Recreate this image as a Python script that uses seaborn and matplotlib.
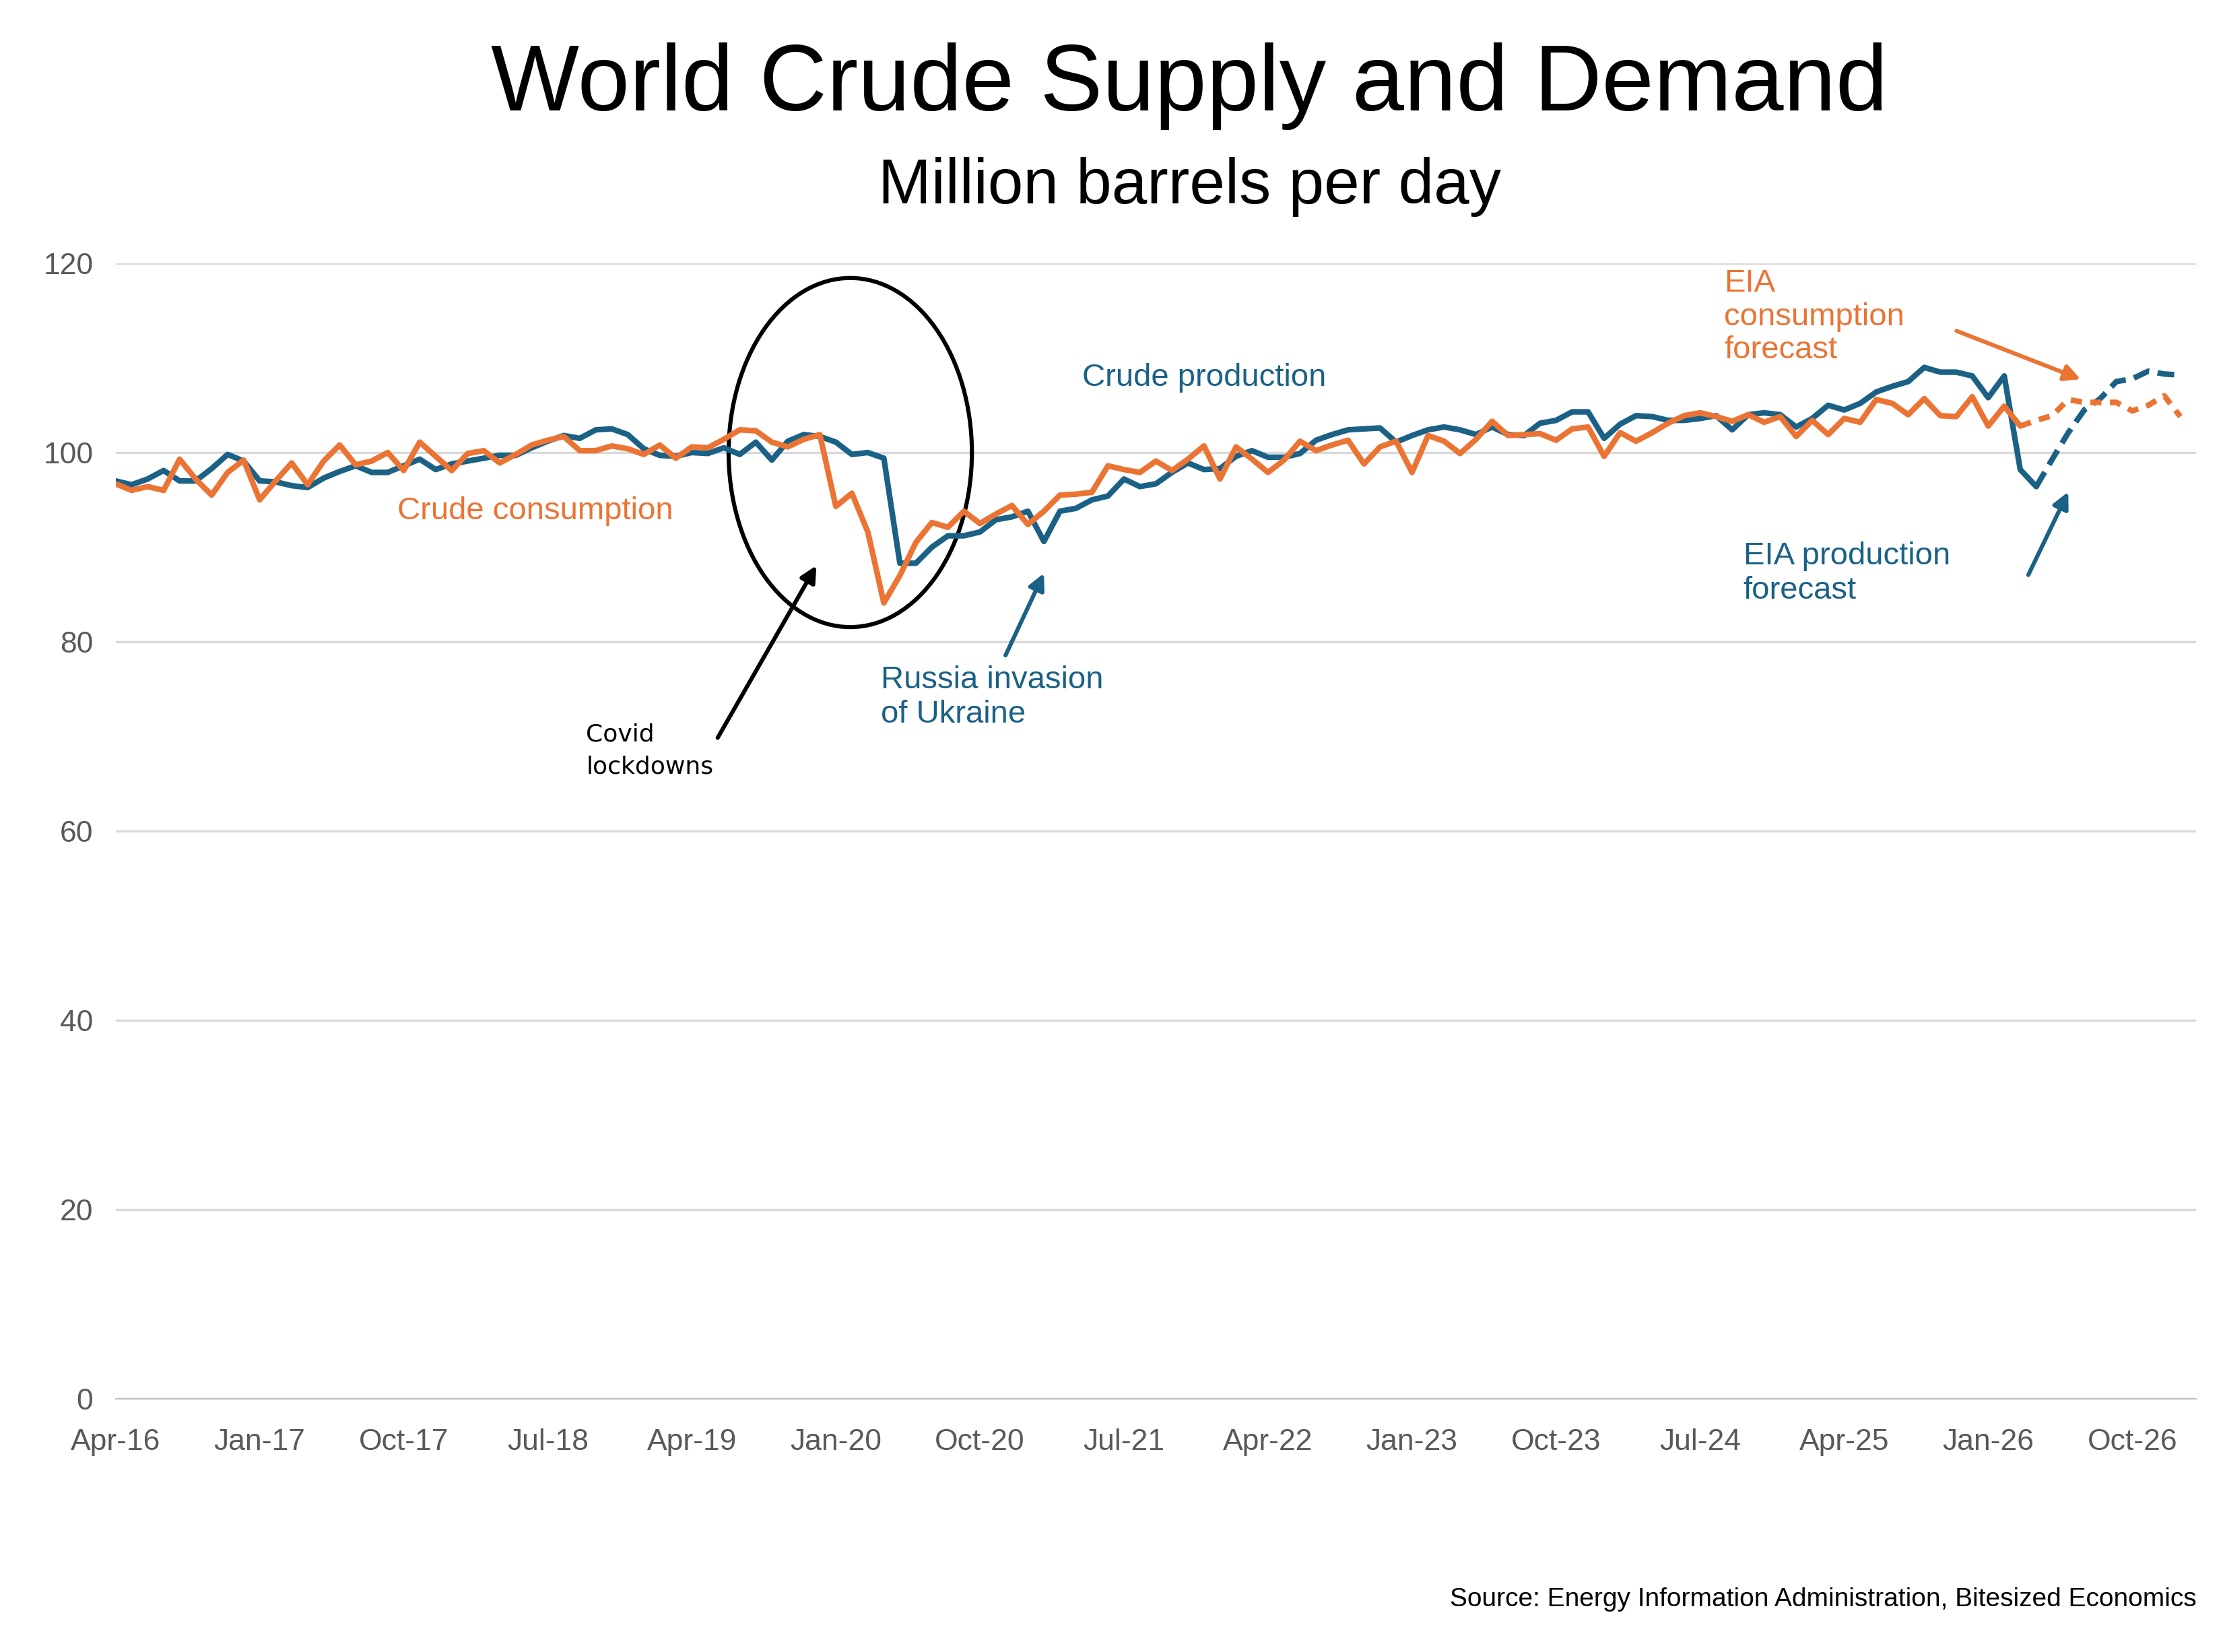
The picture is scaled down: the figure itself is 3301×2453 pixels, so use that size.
import numpy as np
import pandas as pd
import matplotlib.pyplot as plt
import seaborn as sns
from matplotlib.patches import Ellipse

# monthly data, Apr-16 .. Jan-27 (million barrels per day)
production = [
    97.0, 96.6, 97.2, 98.1, 97.0, 97.0, 98.3, 99.8, 99.1, 97.0, 96.9, 96.5, 96.3, 97.3, 98.0, 98.6,
    97.9, 97.9, 98.6, 99.3, 98.2, 98.8, 99.1, 99.4, 99.7, 99.7, 100.5, 101.2, 101.8, 101.5, 102.4, 102.5,
    101.9,
    100.4, 99.7, 99.6, 100.0, 99.9, 100.5, 99.8, 101.1, 99.2, 101.2, 101.9, 101.7, 101.1, 99.8, 100.0,
    99.4, 88.3, 88.3, 90.0, 91.2, 91.2, 91.6, 92.9, 93.2, 93.8, 90.6, 93.8, 94.1, 95.0, 95.4, 97.2,
    96.4, 96.7,
    97.9, 98.9, 98.2, 98.3, 99.6, 100.2, 99.5, 99.5, 99.9, 101.3, 101.9, 102.4, 102.5, 102.6, 101.1,
    101.8, 102.4, 102.7, 102.4, 101.9, 102.7, 101.9, 101.8, 103.1, 103.4, 104.3, 104.3, 101.5, 103.0,
    103.9, 103.8, 103.4, 103.4, 103.6,
    103.9, 102.4, 104.0, 104.2, 104.0, 102.7, 103.6, 105.0, 104.5, 105.2, 106.4, 107.0, 107.5, 109.0,
    108.5, 108.5, 108.1, 105.8, 108.1, 98.2, 96.4,
    99.3, 102.1, 104.5, 105.7, 107.5, 107.8, 108.6, 108.3, 108.2,
]
consumption = [
    96.7, 96.0, 96.4, 96.0, 99.3, 97.2, 95.5, 97.9, 99.2, 95.0, 97.0, 98.9, 96.6, 99.1, 100.8, 98.7,
    99.1, 100.0, 98.1, 101.1, 99.6, 98.1, 99.9, 100.2, 98.9, 99.8, 100.8, 101.3, 101.7, 100.2, 100.2,
    100.7, 100.4,
    99.8, 100.8, 99.4, 100.6, 100.5, 101.4, 102.4, 102.3, 101.1, 100.6, 101.4, 101.9, 94.3, 95.7,
    91.6, 84.1, 87.0, 90.5, 92.6, 92.1, 93.8, 92.5, 93.5, 94.4, 92.4, 93.8, 95.5, 95.6, 95.8, 98.6,
    98.2, 97.9, 99.1,
    98.1, 99.3, 100.7, 97.2, 100.6, 99.3, 97.9, 99.2, 101.2, 100.2, 100.8, 101.3, 98.8, 100.6, 101.2,
    97.9, 101.8, 101.2, 99.9, 101.4, 103.3, 101.8, 101.9, 102.0, 101.3, 102.5, 102.7, 99.6, 102.1,
    101.2, 102.1, 103.1, 103.9, 104.2,
    103.8, 103.3, 104.0, 103.2, 103.8, 101.7, 103.4, 101.9, 103.6, 103.2, 105.6, 105.2, 104.0, 105.7,
    103.9, 103.8, 105.9, 102.8, 104.9, 102.8,
    103.4, 103.9, 105.6, 105.3, 105.3, 105.3, 104.4, 105.0, 106.0, 103.8,
]
prod_last_actual = 120
cons_last_actual = 119
tick_labels = ["Apr-16", "Jan-17", "Oct-17", "Jul-18", "Apr-19", "Jan-20", "Oct-20", "Jul-21",
               "Apr-22", "Jan-23", "Oct-23", "Jul-24", "Apr-25", "Jan-26", "Oct-26"]

BLUE = "#1a6185"
ORANGE = "#eb7434"

n = len(production)
idx = np.arange(n)
prod = np.array(production)
cons = np.array(consumption)
df = pd.DataFrame({
    "m": idx,
    "prod": np.where(idx <= prod_last_actual, prod, np.nan),
    "prod_f": np.where(idx >= prod_last_actual, prod, np.nan),
    "cons": np.where(idx <= cons_last_actual, cons, np.nan),
    "cons_f": np.where(idx >= cons_last_actual, cons, np.nan),
})

sns.set_style("white")
plt.rcParams["font.family"] = ["Liberation Sans", "DejaVu Sans"]
plt.rcParams["text.color"] = "black"

fig = plt.figure(figsize=(16.505, 12.265), dpi=200)
ax = fig.add_axes([0.052, 0.1534, 0.936, 0.6872])

lw = 3.0
sns.lineplot(data=df, x="m", y="prod", color=BLUE, lw=lw, ax=ax)
sns.lineplot(data=df, x="m", y="cons", color=ORANGE, lw=lw, ax=ax)
sns.lineplot(data=df, x="m", y="prod_f", color=BLUE, lw=lw, ax=ax, linestyle=(0, (3, 1.5)))
sns.lineplot(data=df, x="m", y="cons_f", color=ORANGE, lw=lw, ax=ax, linestyle=(0, (2, 1.5)))

ax.set_xlim(0, 130)
ax.set_ylim(0, 120)
ax.set_yticks(range(0, 121, 20))
ax.set_xticks(np.arange(0, 9 * len(tick_labels), 9))
ax.set_xticklabels(tick_labels)
ax.set_xlabel("")
ax.set_ylabel("")
ax.grid(axis="y", color="#d9d9d9", lw=1.2)
for s in ["top", "right", "left"]:
    ax.spines[s].set_visible(False)
ax.spines["bottom"].set_color("#bfbfbf")
ax.tick_params(axis="x", length=6, color="#bfbfbf", labelsize=16, labelcolor="#595959", pad=10)
ax.tick_params(axis="y", length=0, labelsize=16, labelcolor="#595959", pad=12)

fig.text(0.535, 0.948, "World Crude Supply and Demand", ha="center", va="center",
         fontsize=50, color="black", fontweight="medium")
fig.text(0.535, 0.887, "Million barrels per day", ha="center", va="center", fontsize=34, color="black")
fig.text(0.988, 0.032, "Source: Energy Information Administration, Bitesized Economics",
         ha="right", va="center", fontsize=14, color="black")

ax.text(60.4, 107.9, "Crude production", color=BLUE, fontsize=17, va="center")
ax.text(17.6, 93.8, "Crude consumption", color=ORANGE, fontsize=17, va="center")

ax.add_patch(Ellipse((45.9, 100), 15.2, 36.9, fill=False, ec="black", lw=2.2))
ax.annotate("", xy=(43.9, 88.4), xytext=(37.5, 69.5),
            arrowprops=dict(arrowstyle="-|>", color="black", lw=2.2, mutation_scale=18))
ax.text(29.4, 71.4, "Covid\nlockdowns", fontsize=13, va="top", linespacing=1.5, family="DejaVu Sans")

ax.annotate("", xy=(58.1, 87.6), xytext=(55.5, 78.2),
            arrowprops=dict(arrowstyle="-|>", color=BLUE, lw=2.2, mutation_scale=18))
ax.text(47.8, 77.5, "Russia invasion\nof Ukraine", color=BLUE, fontsize=17, va="top", linespacing=1.2)

ax.annotate("", xy=(123.0, 107.6), xytext=(114.8, 113.0),
            arrowprops=dict(arrowstyle="-|>", color=ORANGE, lw=2.2, mutation_scale=18))
ax.text(100.5, 119.4, "EIA\nconsumption\nforecast", color=ORANGE, fontsize=17, va="top", linespacing=1.15)

ax.annotate("", xy=(122.1, 96.2), xytext=(119.4, 86.7),
            arrowprops=dict(arrowstyle="-|>", color=BLUE, lw=2.2, mutation_scale=18))
ax.text(101.7, 90.6, "EIA production\nforecast", color=BLUE, fontsize=17, va="top", linespacing=1.2)

fig.savefig("out.png", dpi=200)
